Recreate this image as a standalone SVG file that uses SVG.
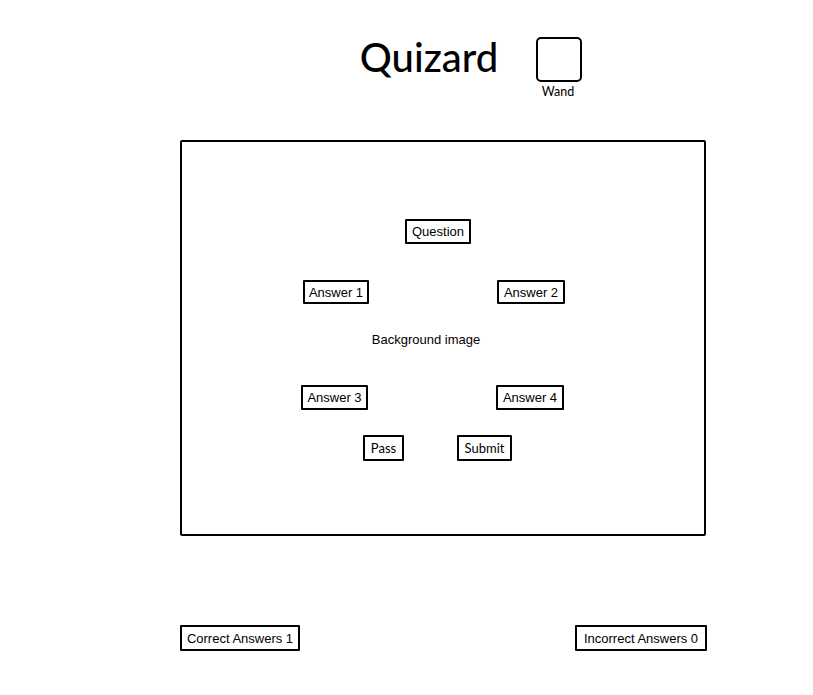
<svg xmlns="http://www.w3.org/2000/svg" width="813" height="695" viewBox="0 0 813 695">
<style>
.b{fill:#fff;stroke:#000;stroke-width:2;stroke-linejoin:round}
.t{font-family:"Liberation Sans",Arial,sans-serif;font-size:13px;fill:#000;text-anchor:middle}
.q{font-family:Lato,"Noto Sans",sans-serif;text-anchor:middle;fill:#000}
</style>
<rect width="813" height="695" fill="#fff"/>
<g id="title"><text class="q" x="429" y="72" font-size="40" font-weight="500">Quizard</text></g>
<g id="wand"><rect class="b" x="537" y="38" width="44" height="43" rx="4"/><text class="q" x="558" y="96" font-size="12.5">Wand</text></g>
<g id="main"><rect class="b" x="181" y="141" width="524" height="394" rx="1"/><text class="t" x="426" y="344">Background image</text></g>
<g id="question"><rect class="b" x="406" y="220" width="64" height="23"/><text class="t" x="438" y="236">Question</text></g>
<g id="answer1"><rect class="b" x="304" y="281" width="64" height="22"/><text class="t" x="336" y="296.5">Answer 1</text></g>
<g id="answer2"><rect class="b" x="498" y="281" width="66" height="22"/><text class="t" x="531" y="296.5">Answer 2</text></g>
<g id="answer3"><rect class="b" x="302" y="386" width="65" height="23"/><text class="t" x="334.5" y="402">Answer 3</text></g>
<g id="answer4"><rect class="b" x="497" y="386" width="66" height="23"/><text class="t" x="530" y="402">Answer 4</text></g>
<g id="pass"><rect class="b" x="364" y="436" width="39" height="24"/><text class="q" x="383.5" y="452.5" font-size="13">Pass</text></g>
<g id="submit"><rect class="b" x="458" y="436" width="53" height="24"/><text class="q" x="484.5" y="452.5" font-size="13">Submit</text></g>
<g id="correct"><rect class="b" x="181" y="626" width="118" height="24"/><text class="t" x="240" y="642.5">Correct Answers 1</text></g>
<g id="incorrect"><rect class="b" x="576" y="626" width="130" height="24"/><text class="t" x="641" y="642.5">Incorrect Answers 0</text></g>
<g id="connectors"></g>
</svg>
